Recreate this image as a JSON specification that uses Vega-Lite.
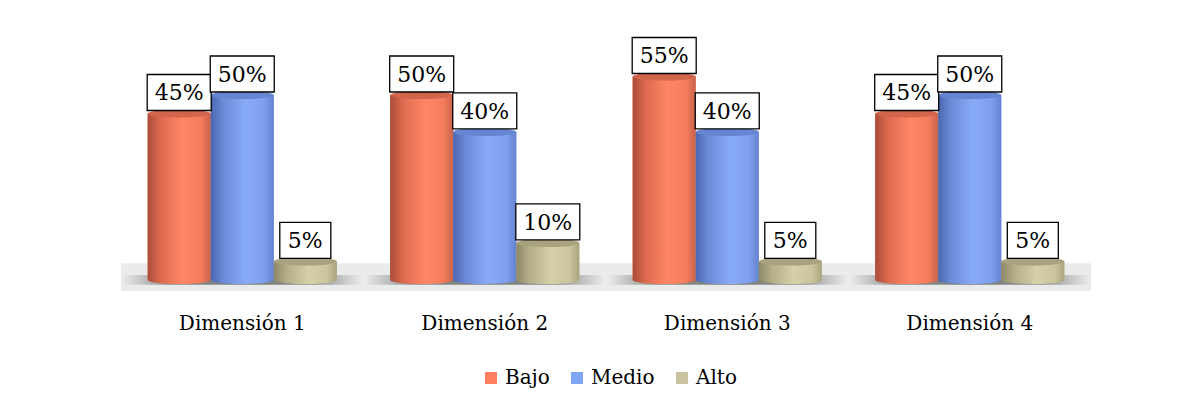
{
  "$schema": "https://vega.github.io/schema/vega-lite/v6.json",
  "autosize": {"type": "none"},
  "width": 970,
  "height": 233,
  "padding": {"left": 121, "top": 58, "right": 102, "bottom": 116},
  "background": "#ffffff",
  "config": {
    "view": {"stroke": null},
    "font": "DejaVu Serif"
  },
  "data": {
    "values": [
      {"dim": "Dimensión 1", "series": "Bajo", "value": 0.45},
      {"dim": "Dimensión 1", "series": "Medio", "value": 0.50},
      {"dim": "Dimensión 1", "series": "Alto", "value": 0.05},
      {"dim": "Dimensión 2", "series": "Bajo", "value": 0.50},
      {"dim": "Dimensión 2", "series": "Medio", "value": 0.40},
      {"dim": "Dimensión 2", "series": "Alto", "value": 0.10},
      {"dim": "Dimensión 3", "series": "Bajo", "value": 0.55},
      {"dim": "Dimensión 3", "series": "Medio", "value": 0.40},
      {"dim": "Dimensión 3", "series": "Alto", "value": 0.05},
      {"dim": "Dimensión 4", "series": "Bajo", "value": 0.45},
      {"dim": "Dimensión 4", "series": "Medio", "value": 0.50},
      {"dim": "Dimensión 4", "series": "Alto", "value": 0.05}
    ]
  },
  "encoding": {
    "x": {
      "field": "dim", "type": "nominal",
      "scale": {"paddingInner": 0.22, "paddingOuter": 0.11},
      "axis": {"title": null, "domain": false, "ticks": false, "labelAngle": 0,
               "labelFont": "DejaVu Serif", "labelFontSize": 20, "labelColor": "#000000",
               "labelPadding": 22}
    }
  },
  "layer": [
    {
      "transform": [{"filter": "datum.dim === 'Dimensión 1' && datum.series === 'Bajo'"}],
      "mark": {"type": "rect", "color": "#E9ECEA"},
      "encoding": {
        "x": null,
        "y": {"datum": -0.03, "type": "quantitative", "scale": {"domain": [-0.03, 0.6], "nice": false, "zero": false}, "axis": null},
        "y2": {"datum": 0.045}
      }
    },
    {
      "transform": [{"filter": "datum.series === 'Medio'"}],
      "mark": {"type": "point", "shape": "M-1,-0.04L1,-0.04L1,0.04L-1,0.04Z", "size": 57600, "filled": true, "strokeWidth": 0, "opacity": 1,
               "color": {"gradient": "radial", "x1": 0.5, "y1": 0.5, "r1": 0, "x2": 0.5, "y2": 0.5, "r2": 0.5,
                         "stops": [{"offset": 0, "color": "#7A7C7A"}, {"offset": 0.6, "color": "#8C8E8C"}, {"offset": 1, "color": "#E9ECEA"}]}},
      "encoding": {
        "y": {"datum": 0, "type": "quantitative"}
      }
    },
    {
      "mark": {"type": "point", "shape": "M-1,0A1,0.13,0,1,0,1,0A1,0.13,0,1,0,-1,0Z", "size": 3969, "filled": true, "strokeWidth": 0, "opacity": 1},
      "encoding": {
        "xOffset": {"field": "series", "scale": {"domain": ["Bajo", "Medio", "Alto"], "paddingInner": 0, "paddingOuter": 0}},
        "y": {"datum": 0, "type": "quantitative"},
        "color": {
          "condition": [
            {"test": "datum.series === 'Bajo'", "value": {"gradient": "linear", "x1": 0, "y1": 0, "x2": 1, "y2": 0, "stops": [{"offset": 0, "color": "#A84C39"}, {"offset": 0.2, "color": "#DC6A4F"}, {"offset": 0.55, "color": "#FF8666"}, {"offset": 0.85, "color": "#F57C5D"}, {"offset": 1, "color": "#C8624B"}]}},
            {"test": "datum.series === 'Medio'", "value": {"gradient": "linear", "x1": 0, "y1": 0, "x2": 1, "y2": 0, "stops": [{"offset": 0, "color": "#4A66AE"}, {"offset": 0.2, "color": "#6C8BD8"}, {"offset": 0.55, "color": "#88ABF8"}, {"offset": 0.85, "color": "#7E9FEE"}, {"offset": 1, "color": "#6482CF"}]}}
          ],
          "value": {"gradient": "linear", "x1": 0, "y1": 0, "x2": 1, "y2": 0, "stops": [{"offset": 0, "color": "#8C8765"}, {"offset": 0.2, "color": "#B3AD88"}, {"offset": 0.55, "color": "#D6D0A9"}, {"offset": 0.85, "color": "#CBC59E"}, {"offset": 1, "color": "#A9A37F"}]}
        }
      }
    },
    {
      "mark": {"type": "bar"},
      "encoding": {
        "xOffset": {"field": "series", "scale": {"domain": ["Bajo", "Medio", "Alto"]}},
        "y": {"field": "value", "type": "quantitative"},
        "y2": {"datum": 0},
        "color": {
          "field": "series", "type": "nominal",
          "scale": {"domain": ["Bajo", "Medio", "Alto"], "range": ["#FF7F5F", "#7EA6F5", "#C9C3A0"]},
          "legend": {"title": null, "orient": "none", "legendX": 360, "legendY": 310, "padding": 0, "direction": "horizontal",
                     "symbolType": "square", "symbolSize": 144, "symbolStrokeWidth": 0,
                     "labelFont": "DejaVu Serif", "labelFontSize": 20, "labelColor": "#000000",
                     "labelOffset": 4, "columnPadding": 17}
        }
      }
    },
    {
      "mark": {"type": "bar"},
      "encoding": {
        "xOffset": {"field": "series", "scale": {"domain": ["Bajo", "Medio", "Alto"]}},
        "y": {"field": "value", "type": "quantitative"},
        "y2": {"datum": 0},
        "color": {
          "condition": [
            {"test": "datum.series === 'Bajo'", "value": {"gradient": "linear", "x1": 0, "y1": 0, "x2": 1, "y2": 0, "stops": [{"offset": 0, "color": "#A84C39"}, {"offset": 0.2, "color": "#DC6A4F"}, {"offset": 0.55, "color": "#FF8666"}, {"offset": 0.85, "color": "#F57C5D"}, {"offset": 1, "color": "#C8624B"}]}},
            {"test": "datum.series === 'Medio'", "value": {"gradient": "linear", "x1": 0, "y1": 0, "x2": 1, "y2": 0, "stops": [{"offset": 0, "color": "#4A66AE"}, {"offset": 0.2, "color": "#6C8BD8"}, {"offset": 0.55, "color": "#88ABF8"}, {"offset": 0.85, "color": "#7E9FEE"}, {"offset": 1, "color": "#6482CF"}]}}
          ],
          "value": {"gradient": "linear", "x1": 0, "y1": 0, "x2": 1, "y2": 0, "stops": [{"offset": 0, "color": "#8C8765"}, {"offset": 0.2, "color": "#B3AD88"}, {"offset": 0.55, "color": "#D6D0A9"}, {"offset": 0.85, "color": "#CBC59E"}, {"offset": 1, "color": "#A9A37F"}]}
        }
      }
    },
    {
      "mark": {"type": "point", "shape": "M-1,0A1,0.13,0,1,0,1,0A1,0.13,0,1,0,-1,0Z", "size": 3969, "filled": true, "strokeWidth": 0, "opacity": 1},
      "encoding": {
        "xOffset": {"field": "series", "scale": {"domain": ["Bajo", "Medio", "Alto"]}},
        "y": {"field": "value", "type": "quantitative"},
        "color": {
          "condition": [
            {"test": "datum.series === 'Bajo'", "value": "#D2654B"},
            {"test": "datum.series === 'Medio'", "value": "#6686D2"}
          ],
          "value": "#A8A27F"
        }
      }
    },
    {
      "transform": [{"filter": "datum.value >= 0.1"}],
      "mark": {"type": "bar", "width": 64, "fill": "#ffffff", "stroke": "#000000", "strokeWidth": 1.3, "yOffset": -39, "y2Offset": -3},
      "encoding": {
        "xOffset": {"field": "series", "scale": {"domain": ["Bajo", "Medio", "Alto"]}},
        "y": {"field": "value", "type": "quantitative"},
        "y2": {"field": "value"}
      }
    },
    {
      "transform": [{"filter": "datum.value < 0.1"}],
      "mark": {"type": "bar", "width": 51, "fill": "#ffffff", "stroke": "#000000", "strokeWidth": 1.3, "yOffset": -39, "y2Offset": -3},
      "encoding": {
        "xOffset": {"field": "series", "scale": {"domain": ["Bajo", "Medio", "Alto"]}},
        "y": {"field": "value", "type": "quantitative"},
        "y2": {"field": "value"}
      }
    },
    {
      "mark": {"type": "text", "font": "DejaVu Serif", "fontSize": 22, "color": "#000000", "baseline": "middle", "align": "center", "yOffset": -20},
      "encoding": {
        "xOffset": {"field": "series", "scale": {"domain": ["Bajo", "Medio", "Alto"]}},
        "y": {"field": "value", "type": "quantitative"},
        "text": {"field": "value", "type": "quantitative", "format": ".0%"}
      }
    }
  ]
}
